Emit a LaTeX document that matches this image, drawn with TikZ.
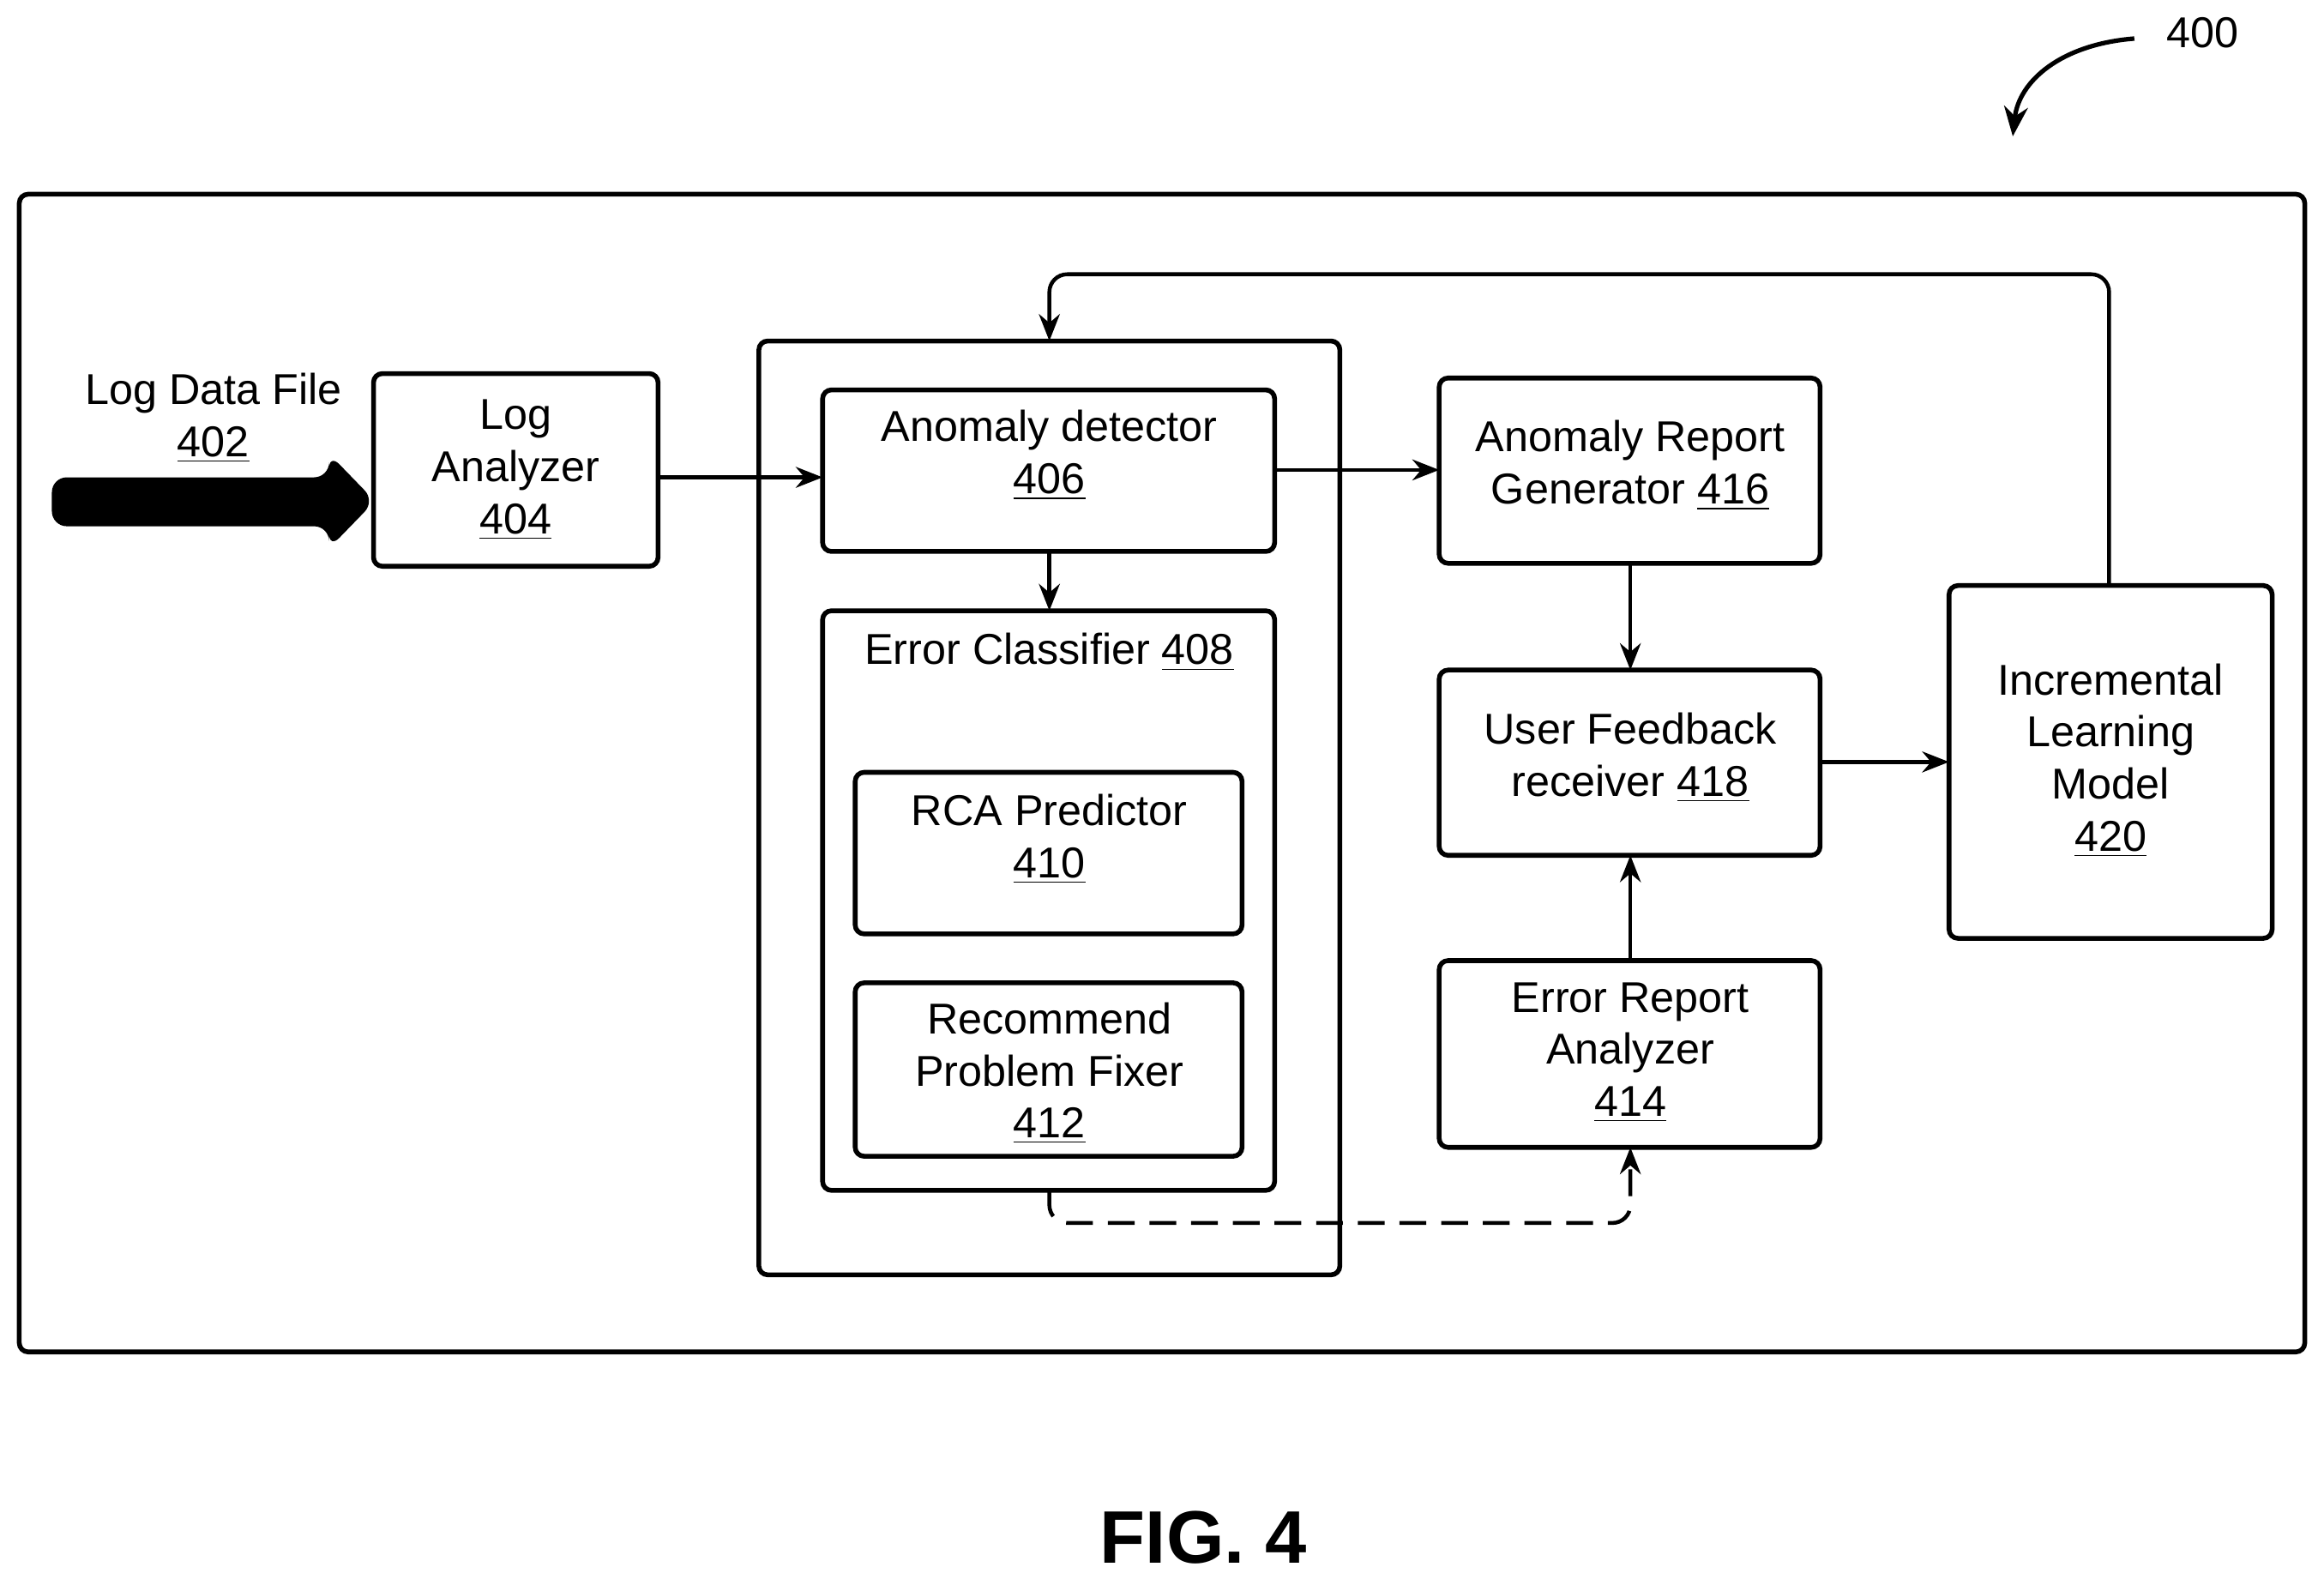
\documentclass[tikz,border=0pt]{standalone}
\usepackage{fontspec}
\setmainfont{Liberation Sans}
\usetikzlibrary{arrows.meta}
\begin{document}
\begin{tikzpicture}[x=0.0175cm,y=-0.0175cm,
  box/.style={draw,line width=1.6pt,rounded corners=3pt},
  lbl/.style={align=center,font=\fontsize{14.5}{17.5}\selectfont},
  arr/.style={line width=1.3pt,-{Stealth[length=9pt,width=7pt]}}]
\useasboundingbox (0,0) rectangle (1568,1065);
\draw[box] (13,131) rectangle (1555,912);
% boxes
\draw[box] (252,252) rectangle (444,382) coordinate (la);
\node[lbl] (lat) at (348,317) {Log\\Analyzer\\\underline{404}};
\draw[box] (512,230) rectangle (904,860);
\coordinate (cont) at (708,230);
\draw[box] (555,263) rectangle (860,372);
\node[lbl] (ad) at (708,307) {Anomaly detector\\\underline{406}};
\draw[box] (555,412) rectangle (860,803);
\node[lbl] (ec) at (708,440) {Error Classifier \underline{408}};
\draw[box] (577,521) rectangle (838,630);
\node[lbl] (rca) at (708,566) {RCA Predictor\\\underline{410}};
\draw[box] (577,663) rectangle (838,780);
\node[lbl] (rpf) at (708,724) {Recommend\\Problem Fixer\\\underline{412}};
\draw[box] (971,255) rectangle (1228,380);
\node[lbl] (arg) at (1100,314) {Anomaly Report\\Generator \underline{416}};
\draw[box] (971,452) rectangle (1228,577);
\node[lbl] (uf) at (1100,511) {User Feedback\\receiver \underline{418}};
\draw[box] (971,648) rectangle (1228,774);
\node[lbl] (era) at (1100,710) {Error Report\\Analyzer\\\underline{414}};
\draw[box] (1315,395) rectangle (1533,633);
\node[lbl] (ilm) at (1424,513) {Incremental\\Learning\\Model\\\underline{420}};
\node[lbl] (ldf) at (144,282) {Log Data File\\\underline{402}};
% thick input arrow
\fill[rounded corners=5pt] (35,322) -- (222,322) -- (222,306) -- (253,338) -- (222,370) -- (222,355) -- (35,355) -- cycle;
% connectors
\draw[arr] (444,322) -- (555,322);
\draw[arr] (860,317) -- (971,317);
\draw[arr] (708,372) -- (708,412);
\draw[arr] (1100,380) -- (1100,452);
\draw[arr] (1100,648) -- (1100,577);
\draw[arr] (1228,514) -- (1315,514);
\draw[arr,rounded corners=6pt] (1423,395) -- (1423,185) -- (708,185) -- (708,230);
\draw[arr,dashed,dash pattern=on 9pt off 5pt,rounded corners=6pt] (708,803) -- (708,825) -- (1100,825) -- (1100,774);
% 400
\node[lbl] (n400) at (1486,22) {400};
\draw[line width=1.5pt,-{Stealth[length=10pt,width=8pt]}] (1440,26) .. controls (1390,30) and (1362,55) .. (1358,92);
\node[font=\bfseries\fontsize{25}{30}\selectfont] (fig) at (812,1037) {FIG. 4};
\end{tikzpicture}
\end{document}
